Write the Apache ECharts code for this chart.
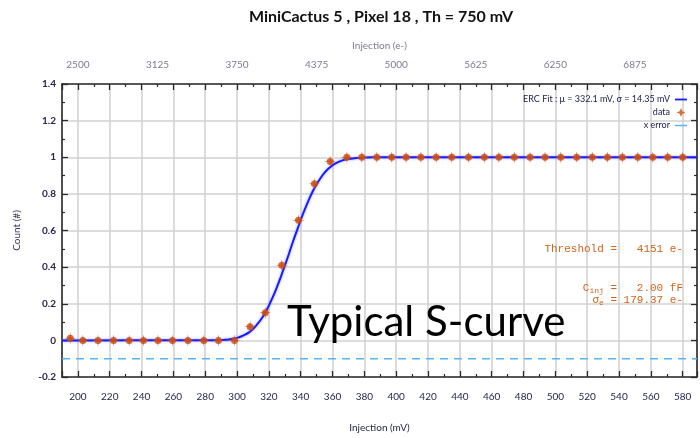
<!DOCTYPE html>
<html>
<head>
<meta charset="utf-8">
<title>MiniCactus 5 S-curve</title>
<script src="https://cdn.jsdelivr.net/npm/echarts@6/dist/echarts.min.js"></script>
<style>
  html, body { margin: 0; padding: 0; background: #ffffff; }
  #chart { width: 700px; height: 438px; }
</style>
</head>
<body>
<div id="chart"></div>
<script>
// Measured hit fraction versus injected pulse amplitude (mV)
const dataX = [195.2, 203.1, 212.6, 222.4, 232.2, 241.2, 250.3, 259.4, 269.1, 279.1,
               288.3, 298.4, 308.2, 317.7, 328.1, 338.6, 348.6, 358.5, 369.0, 378.4,
               387.8, 397.2, 406.2, 415.5, 425.1, 434.9, 445.4, 455.4, 464.5, 474.2,
               484.1, 493.5, 503.4, 513.4, 523.2, 532.7, 542.1, 551.8, 561.2, 570.6, 580.0];
const dataY = [0.012, 0, 0, 0, 0, 0, 0, 0, 0, 0,
               0, 0, 0.075, 0.151, 0.41, 0.656, 0.855, 0.977, 1, 1,
               1, 1, 1, 1, 1, 1, 1, 1, 1, 1,
               1, 1, 1, 1, 1, 1, 1, 1, 1, 1, 1];

// ERC fit curve
const fitX = [190, 280, 285, 290, 292.5, 295, 297.5, 300, 302.5, 305, 307.5, 310, 312.5,
              315, 317.5, 320, 322.5, 325, 327.5, 330, 332.5, 335, 337.5, 340, 342.5,
              345, 347.5, 350, 352.5, 355, 357.5, 360, 362.5, 365, 367.5, 370, 375,
              380, 385, 390, 589];
const fitY = [0, 0.0001, 0.0007, 0.0017, 0.003, 0.0053, 0.0087, 0.0137, 0.021, 0.031,
              0.044, 0.062, 0.086, 0.114, 0.148, 0.19, 0.237, 0.29, 0.347, 0.408, 0.47,
              0.536, 0.597, 0.658, 0.714, 0.766, 0.813, 0.853, 0.887, 0.916, 0.938,
              0.956, 0.969, 0.979, 0.986, 0.9905, 0.996, 0.9985, 0.9995, 1, 1];

// x error reference level
const xErrX = [190, 589];
const xErrY = [-0.1, -0.1];

// Axis ranges
const mvRange = [190, 589];
const electronsPerMv = 12.5;
const countRange = [-0.2, 1.4];

// Text
const titleText = 'MiniCactus 5 , Pixel 18 , Th = 750 mV';
const fitName = 'ERC Fit : \u03bc = 332.1 mV, \u03c3 = 14.35 mV';
const dataName = 'data';
const errName = 'x error';
const bottomAxisName = 'Injection (mV)';
const topAxisName = 'Injection (e-)';
const leftAxisName = 'Count (#)';

const FONT = "Lato, 'Open Sans', sans-serif";
const MONO = "'Liberation Mono', 'DejaVu Sans Mono', monospace";
const AXIS_COLOR = '#2b2b2b';
const GRID_COLOR = '#d2d2d2';
const LABEL_DARK = '#26264a';
const LABEL_GREY = '#7d7d8c';
const DATA_COLOR = '#cc4c12';
const FIT_COLOR = '#1a1aff';
const ERR_COLOR = '#55b6f0';
const ANNOT_COLOR = '#d0641c';

// thin four-armed cross used for the error arms around each data point
const ARMS = 'path://M0,-6 L0.9,-0.9 L6,0 L0.9,0.9 L0,6 L-0.9,0.9 L-6,0 L-0.9,-0.9 Z';
const LEGEND_DATA = 'path://M0,-6 L1.8,-1.8 L6,0 L1.8,1.8 L0,6 L-1.8,1.8 L-6,0 L-1.8,-1.8 Z';

const tickCommon = {
  axisLine: { show: true, onZero: false, lineStyle: { color: AXIS_COLOR, width: 1.6 } },
  axisTick: { show: true, inside: true, length: 6, lineStyle: { color: AXIS_COLOR, width: 1.3 } },
  minorTick: { show: true, splitNumber: 2, length: 3, lineStyle: { color: AXIS_COLOR, width: 1.2 } }
};

const chart = echarts.init(document.getElementById('chart'), null, { renderer: 'canvas' });

chart.setOption({
  animation: false,
  backgroundColor: '#ffffff',
  grid: { left: 62, right: 3, top: 84, bottom: 61 },
  legend: {
    orient: 'vertical',
    right: 8,
    top: 90,
    align: 'right',
    itemGap: 4,
    itemWidth: 12,
    itemHeight: 9,
    textStyle: { fontFamily: FONT, fontSize: 9, color: '#202050', padding: [0, 0, 0, 0] },
    data: [
      { name: fitName, icon: 'path://M0,0 L12,0 L12,1.8 L0,1.8 Z', itemStyle: { color: FIT_COLOR } },
      { name: dataName, icon: LEGEND_DATA, itemStyle: { color: DATA_COLOR } },
      { name: errName, icon: 'path://M0,0 L12,0 L12,1.5 L0,1.5 Z', itemStyle: { color: ERR_COLOR } }
    ]
  },
  xAxis: [
    {
      type: 'value', position: 'bottom', min: mvRange[0], max: mvRange[1],
      splitNumber: 20, minInterval: 20, maxInterval: 20,
      ...tickCommon,
      axisLabel: { margin: 15, fontFamily: FONT, fontSize: 10, color: LABEL_DARK,
                   showMinLabel: false, showMaxLabel: false },
      splitLine: { show: true, lineStyle: { color: GRID_COLOR, width: 1.6 } },
      name: bottomAxisName, nameLocation: 'middle', nameGap: 46,
      nameTextStyle: { fontFamily: FONT, fontSize: 10, color: LABEL_DARK }
    },
    {
      type: 'value', position: 'top', min: mvRange[0], max: mvRange[1],
      splitNumber: 20, minInterval: 20, maxInterval: 20,
      ...tickCommon,
      axisLabel: { show: false },
      splitLine: { show: false }
    },
    {
      type: 'value', position: 'top', offset: 0,
      min: mvRange[0] * electronsPerMv, max: mvRange[1] * electronsPerMv,
      splitNumber: 8, minInterval: 625, maxInterval: 625,
      axisLine: { show: false }, axisTick: { show: false },
      splitLine: { show: false },
      axisLabel: { margin: 14, fontFamily: FONT, fontSize: 10, color: LABEL_GREY,
                   showMinLabel: false, showMaxLabel: false, formatter: v => String(v) },
      name: topAxisName, nameLocation: 'middle', nameGap: 33,
      nameTextStyle: { fontFamily: FONT, fontSize: 10, color: LABEL_GREY }
    }
  ],
  yAxis: [
    {
      type: 'value', position: 'left', min: countRange[0], max: countRange[1], interval: 0.2,
      ...tickCommon,
      axisLabel: { margin: 6, fontFamily: FONT, fontSize: 10, fontWeight: 'bold', color: LABEL_DARK,
                   formatter: v => String(Math.round(v * 10) / 10) },
      splitLine: { show: true, lineStyle: { color: GRID_COLOR, width: 1.6 } },
      name: leftAxisName, nameLocation: 'middle', nameGap: 40, nameRotate: 90,
      nameTextStyle: { fontFamily: FONT, fontSize: 10, color: '#3c3050' }
    },
    {
      type: 'value', position: 'right', min: countRange[0], max: countRange[1], interval: 0.2,
      ...tickCommon,
      axisLabel: { show: false },
      splitLine: { show: false }
    }
  ],
  series: [
    {
      name: errName, type: 'line', xAxisIndex: 0, yAxisIndex: 0,
      data: xErrX.map((x, i) => [x, xErrY[i]]),
      symbol: 'none', silent: true,
      lineStyle: { color: ERR_COLOR, width: 1.5, type: [8, 6] },
      z: 2
    },
    {
      name: fitName, type: 'line', xAxisIndex: 0, yAxisIndex: 0,
      data: fitX.map((x, i) => [x, fitY[i]]),
      symbol: 'none', smooth: 0.2,
      lineStyle: { color: FIT_COLOR, width: 2, shadowColor: 'rgba(90,110,255,0.6)', shadowBlur: 3 },
      z: 3
    },
    {
      name: dataName, type: 'scatter', xAxisIndex: 0, yAxisIndex: 0,
      data: dataX.map((x, i) => [x, dataY[i]]),
      symbol: 'circle', symbolSize: 7,
      itemStyle: { color: DATA_COLOR },
      z: 4
    },
    {
      name: dataName, type: 'scatter', xAxisIndex: 0, yAxisIndex: 0,
      data: dataX.map((x, i) => [x, dataY[i]]),
      symbol: ARMS, symbolSize: 12,
      itemStyle: { color: DATA_COLOR },
      z: 4
    }
  ],
  graphic: [
    {
      type: 'text', x: 381, y: 17, z: 10,
      style: { text: titleText, font: "bold 16px " + FONT, fill: '#111111',
               align: 'center', verticalAlign: 'middle' }
    },
    {
      type: 'text', right: 17, top: 244, z: 10,
      style: { text: 'Threshold =   4151 e-', font: '11px ' + MONO, fill: ANNOT_COLOR }
    },
    {
      type: 'text', right: 17, top: 283, z: 10,
      style: {
        text: '{b|C}{s|inj}{b| =   2.00 fF}',
        rich: {
          b: { font: '11px ' + MONO, fill: ANNOT_COLOR },
          s: { font: '8px ' + MONO, fill: ANNOT_COLOR, padding: [5, 0, 0, 0] }
        }
      }
    },
    {
      type: 'text', right: 17, top: 295, z: 10,
      style: {
        text: '{b|\u03c3}{s|e}{b| = 179.37 e-}',
        rich: {
          b: { font: '11px ' + MONO, fill: ANNOT_COLOR },
          s: { font: '8px ' + MONO, fill: ANNOT_COLOR, padding: [5, 0, 0, 0] }
        }
      }
    },
    {
      type: 'text', left: 287, top: 301, z: 10,
      style: { text: 'Typical S-curve', font: '42px ' + FONT, fill: '#000000' }
    }
  ]
});
</script>
</body>
</html>
